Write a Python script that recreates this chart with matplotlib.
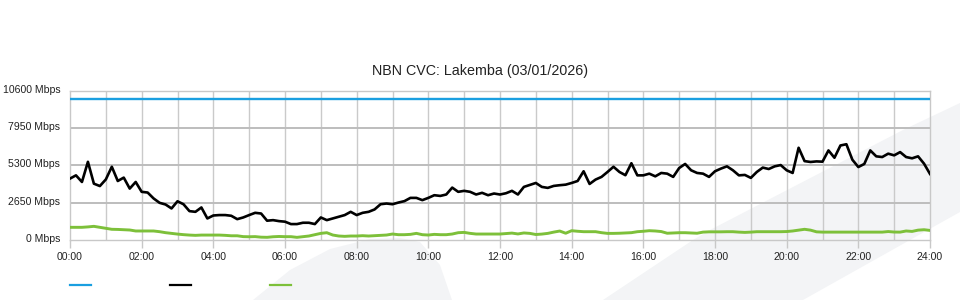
import numpy as np
import matplotlib
matplotlib.use("Agg")
import matplotlib.pyplot as plt
from matplotlib.patches import Polygon
from matplotlib.lines import Line2D
import matplotlib.transforms as mtransforms

plt.rcParams['font.family'] = ['Liberation Sans', 'DejaVu Sans']

title = "NBN CVC: Lakemba (03/01/2026)"
minutes = np.arange(0, 1441, 10)  # 10-minute samples over the day
x_ticks_min = list(range(0, 1441, 120))
x_tick_labels = ["00:00", "02:00", "04:00", "06:00", "08:00", "10:00", "12:00",
                 "14:00", "16:00", "18:00", "20:00", "22:00", "24:00"]
y_ticks = [0, 2650, 5300, 7950, 10600]
y_tick_labels = ["0 Mbps", "2650 Mbps", "5300 Mbps", "7950 Mbps", "10600 Mbps"]

capacity = [10000] * len(minutes)

black_series = [
    4360, 4590, 4120, 5550, 4000, 3830, 4300, 5200, 4190, 4430, 3650, 4120,
    3420, 3370, 2950, 2640, 2520, 2240, 2750, 2540, 2050, 2000, 2310, 1530,
    1740, 1770, 1770, 1720, 1480, 1600, 1770, 1930, 1880, 1370, 1410, 1340,
    1300, 1130, 1130, 1225, 1225, 1130, 1600, 1410, 1530, 1650, 1770, 2000,
    1770, 1930, 2000, 2170, 2540, 2590, 2540, 2660, 2760, 2990, 2990, 2830,
    2990, 3180, 3130, 3230, 3720, 3420, 3490, 3420, 3230, 3350, 3180, 3300,
    3230,
    3320, 3490, 3230, 3770, 3910, 4050, 3770, 3700, 3840, 3890, 3930, 4050,
    4190, 4880, 3980, 4290, 4480, 4830, 5200, 4830, 4600, 5450, 4590, 4590,
    4710, 4520, 4760, 4710, 4480, 5110, 5400, 4950, 4760, 4710, 4480, 4880,
    5070, 5230, 4950, 4590, 4620, 4410, 4830, 5140, 5040, 5230, 5320, 4950,
    4760, 6550, 5600, 5540, 5580, 5560, 6360, 5840, 6710, 6800, 5700, 5180,
    5400, 6360, 5940, 5890, 6130, 6010, 6240, 5890, 5800, 5940, 5420, 4690,
]

green_series = [
    900, 900, 900, 930, 970, 900, 830, 760, 750, 730, 710, 640,
    640, 640, 640, 590, 520, 470, 420, 380, 350, 330, 350, 350,
    350, 350, 330, 300, 300, 240, 230, 240, 200, 190, 230, 250,
    236, 236, 188, 236, 283, 377, 471, 518, 353, 283, 260, 283,
    283, 306, 283, 306, 330, 353, 424, 377, 377, 400, 471, 377,
    353, 400, 377, 377, 424, 518, 540, 471, 424, 424, 424, 424,
    424,
    460, 490, 430, 500, 470, 390, 420, 470, 560, 636, 480, 660,
    620, 590, 590, 590, 520, 470, 470, 480, 500, 520, 589, 620,
    660, 640, 600, 480, 500, 518, 518, 500, 480, 560, 580, 580,
    580, 589, 589, 560, 540, 560, 589, 589, 589, 589, 589, 600,
    640, 700, 760, 700, 580, 560, 560, 560, 560, 560, 560, 560,
    560, 560, 560, 560, 600, 565, 560, 640, 610, 700, 730, 680,
]

BLUE = "#1a9fe0"
BLACK = "#000000"
GREEN = "#7dc03a"

W, H = 960, 300
fig = plt.figure(figsize=(9.6, 3.0), dpi=100)

# faint watermark shapes in the background (pixel coords -> figure fraction)
def px(points):
    return [(x / W, 1 - y / H) for x, y in points]

wm_color = "#f3f4f6"
band = px([(603, 300), (693, 240), (710, 230), (903, 130), (960, 103),
           (960, 212), (910, 240), (803, 300)])
lobe = px([(253, 300), (290, 270), (330, 249), (370, 239), (400, 238),
           (420, 242), (440, 265), (452, 300)])
for pts in (band, lobe):
    fig.patches.append(Polygon(pts, closed=True, transform=fig.transFigure,
                               facecolor=wm_color, edgecolor='none', zorder=0))

ax = fig.add_axes([70 / W, 1 - 240 / H, 860 / W, 149.3 / H])
ax.set_facecolor('none')
ax.set_zorder(1)

ax.plot(minutes, capacity, color=BLUE, lw=1.7, zorder=3, solid_capstyle='butt')
ax.plot(minutes, black_series, color=BLACK, lw=1.9, zorder=4)
ax.plot(minutes, green_series, color=GREEN, lw=2.1, zorder=3)

ax.set_xlim(0, 1440)
ax.set_ylim(0, 10600)

# grid: every hour vertical, major horizontal at y ticks
for m in range(60, 1440, 60):
    ax.axvline(m, color="#cacaca", lw=1.0, zorder=1)
for v in y_ticks[1:-1]:
    ax.axhline(v, color="#bdbdbd", lw=1.4, zorder=1)

for s in ax.spines.values():
    s.set_color("#c8c8c8")
    s.set_linewidth(1.0)

ax.set_xticks(x_ticks_min)
ax.set_xticklabels(x_tick_labels, fontsize=7.6, color="#222222")
ax.tick_params(axis='x', length=6, width=1, color="#c8c8c8", pad=3)

ax.set_yticks(y_ticks)
ax.set_yticklabels(y_tick_labels, fontsize=7.6, color="#222222")
ax.tick_params(axis='y', length=0, pad=7)
offset = mtransforms.ScaledTranslation(0, 2 / 100, fig.dpi_scale_trans)
for lab in ax.get_yticklabels():
    lab.set_transform(lab.get_transform() + offset)

fig.text(0.5, 1 - 71 / H, title, ha='center', va='center', fontsize=10.3,
         color="#222222")

# legend swatches (labels are blank in the reference)
for x0, c in ((70, BLUE), (170, BLACK), (270, GREEN)):
    fig.add_artist(Line2D([x0 / W, (x0 + 21) / W], [1 - 285 / H, 1 - 285 / H],
                          transform=fig.transFigure, color=c, lw=1.6))

fig.savefig("out.png", dpi=100)
